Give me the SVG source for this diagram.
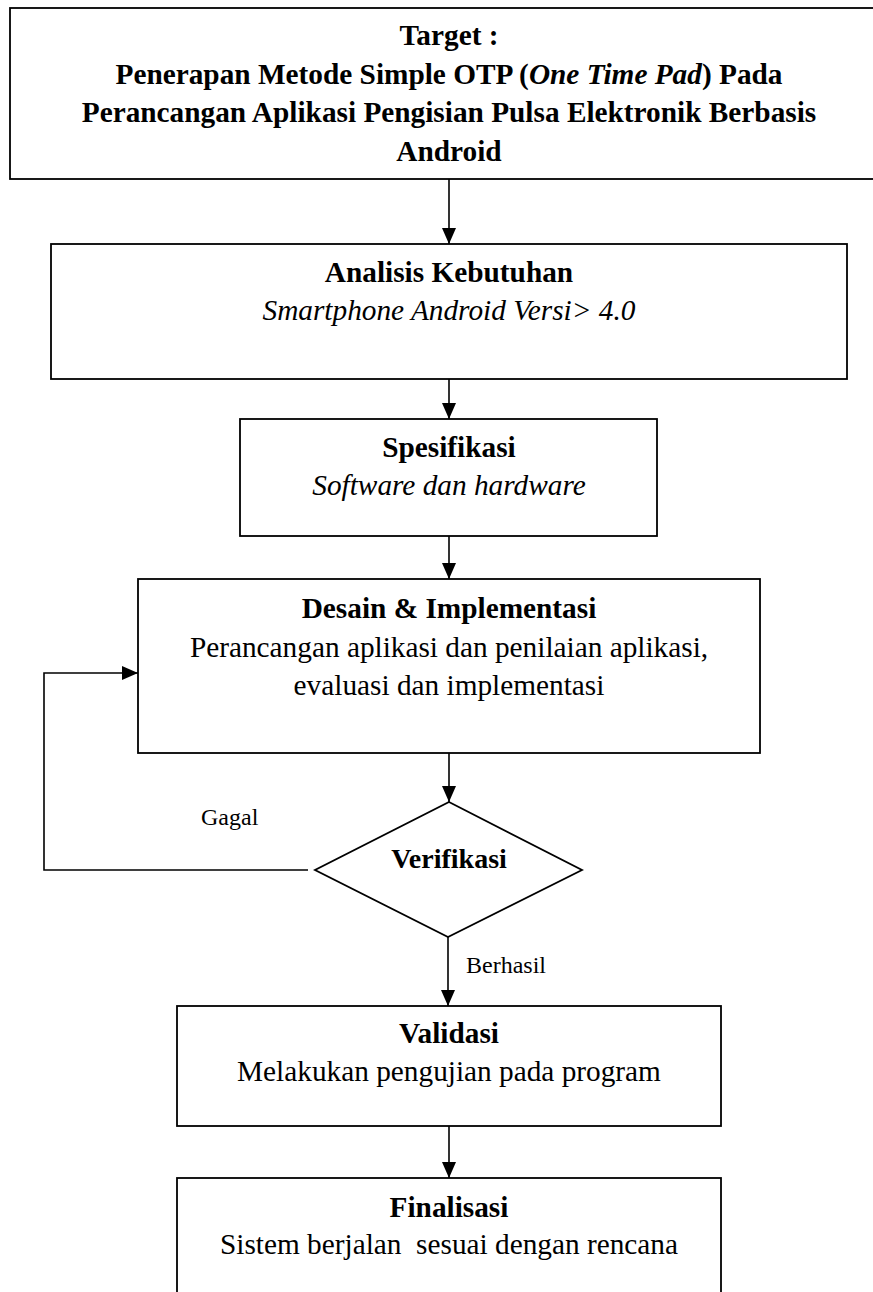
<svg xmlns="http://www.w3.org/2000/svg" width="873" height="1292" viewBox="0 0 873 1292">
<style>
  .box { fill: #fff; stroke: #000; stroke-width: 1.8; }
  .edge { fill: none; stroke: #000; stroke-width: 1.6; }
  text { font-family: "Liberation Serif", "Times New Roman", serif; fill: #000; }
  .t { font-size: 29.3px; font-weight: bold; text-anchor: middle; }
  .b { font-size: 29.3px; text-anchor: middle; }
  .i { font-size: 29.3px; font-style: italic; text-anchor: middle; }
  .lbl { font-size: 24px; }
</style>
<defs>
  <marker id="arr" markerUnits="userSpaceOnUse" markerWidth="16" markerHeight="14" refX="16" refY="7" orient="auto">
    <path d="M0,0 L16,7 L0,14 z" fill="#000"/>
  </marker>
</defs>
<rect width="873" height="1292" fill="#fff"/>

<g id="target">
  <rect class="box" x="10" y="8" width="880" height="171"/>
  <text class="t" x="449" y="45">Target :</text>
  <text class="t" x="449" y="84">Penerapan Metode Simple OTP (<tspan font-style="italic">One Time Pad</tspan>) Pada</text>
  <text class="t" x="449" y="122">Perancangan Aplikasi Pengisian Pulsa Elektronik Berbasis</text>
  <text class="t" x="449" y="161">Android</text>
</g>

<g id="analisis">
  <rect class="box" x="51" y="244" width="796" height="135"/>
  <text class="t" x="449" y="282">Analisis Kebutuhan</text>
  <text class="i" x="449" y="320">Smartphone Android Versi&gt; 4.0</text>
</g>

<g id="spesifikasi">
  <rect class="box" x="240" y="419" width="417" height="117"/>
  <text class="t" x="449" y="457">Spesifikasi</text>
  <text class="i" x="449" y="495">Software dan hardware</text>
</g>

<g id="desain">
  <rect class="box" x="138" y="579" width="622" height="174"/>
  <text class="t" x="449" y="618">Desain &amp; Implementasi</text>
  <text class="b" x="449" y="657">Perancangan aplikasi dan penilaian aplikasi,</text>
  <text class="b" x="449" y="695">evaluasi dan implementasi</text>
</g>

<g id="verifikasi">
  <polygon class="box" points="449,802 582,870 448,937 315,870"/>
  <text class="t" x="449" y="868" style="font-size:28px">Verifikasi</text>
</g>

<g id="validasi">
  <rect class="box" x="177" y="1006" width="544" height="120"/>
  <text class="t" x="449" y="1043">Validasi</text>
  <text class="b" x="449" y="1081">Melakukan pengujian pada program</text>
</g>

<g id="finalisasi">
  <rect class="box" x="177" y="1178" width="544" height="140"/>
  <text class="t" x="449" y="1217">Finalisasi</text>
  <text class="b" x="449" y="1254" style="white-space:pre">Sistem berjalan  sesuai dengan rencana</text>
</g>

<g id="connectors">
  <line class="edge" x1="449" y1="179" x2="449" y2="244" marker-end="url(#arr)"/>
  <line class="edge" x1="449" y1="379" x2="449" y2="419" marker-end="url(#arr)"/>
  <line class="edge" x1="449" y1="536" x2="449" y2="579" marker-end="url(#arr)"/>
  <line class="edge" x1="449" y1="753" x2="449" y2="802" marker-end="url(#arr)"/>
  <line class="edge" x1="448" y1="937" x2="448" y2="1006" marker-end="url(#arr)"/>
  <line class="edge" x1="449" y1="1126" x2="449" y2="1178" marker-end="url(#arr)"/>
  <polyline class="edge" points="308,870 44,870 44,673 138,673" marker-end="url(#arr)"/>
  <text class="lbl" x="201" y="825">Gagal</text>
  <text class="lbl" x="466" y="973">Berhasil</text>
</g>
</svg>
